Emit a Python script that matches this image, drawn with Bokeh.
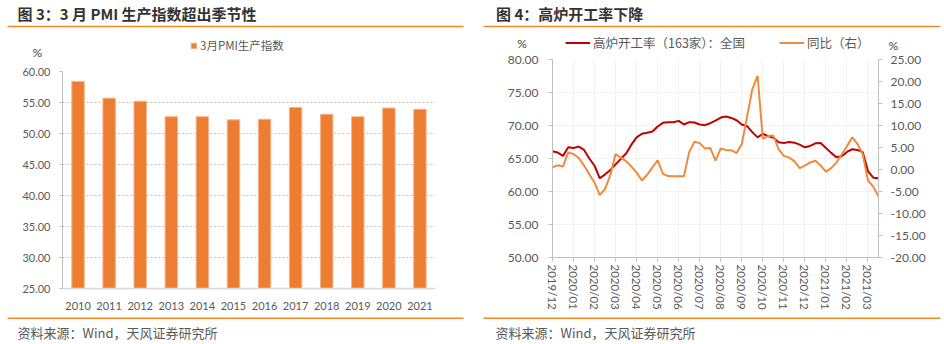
import math
from bokeh.plotting import figure
from bokeh.layouts import row, column
from bokeh.models import (Range1d, FactorRange, LinearAxis, FixedTicker, NumeralTickFormatter,
                          Label, Arrow, Legend, LegendItem)
from bokeh.embed import file_html
from bokeh.resources import INLINE

# ---------------- data ----------------
years = ["2010", "2011", "2012", "2013", "2014", "2015", "2016", "2017", "2018", "2019", "2020", "2021"]
pmi_production = [58.4, 55.7, 55.2, 52.7, 52.7, 52.2, 52.3, 54.2, 53.1, 52.7, 54.1, 53.9]
left_ticks = [25, 30, 35, 40, 45, 50, 55, 60]

date_labels = ["2019/12", "2020/01", "2020/02", "2020/03", "2020/04", "2020/05", "2020/06", "2020/07",
               "2020/08", "2020/09", "2020/10", "2020/11", "2020/12", "2021/01", "2021/02", "2021/03"]
furnace_rate = [66.1, 65.9, 65.4, 66.7, 66.6, 66.8, 66.3, 65.0, 63.9, 62.0,
                62.6, 63.25, 64.1, 64.95, 65.75, 67.1, 68.2, 68.75, 68.9, 69.1,
                69.85, 70.4, 70.5, 70.5, 70.7, 70.15, 70.5, 70.45, 70.15, 70.05,
                70.35, 70.75, 71.2, 71.35, 71.15, 70.8, 70.15, 69.9, 69.0, 68.2,
                68.75, 68.4, 68.15, 67.45, 67.35, 67.5, 67.4, 67.1, 66.7, 66.9,
                67.3, 67.35, 66.6, 65.85, 65.2, 65.35, 66.0, 66.4, 66.3, 65.95,
                63.1, 62.1, 62.0]
furnace_yoy = [0.5, 0.95, 0.7, 3.9, 3.5, 2.6, 0.9, -1.1, -3.0, -5.8,
               -4.4, -1.3, 3.5, 2.7, 1.9, 0.7, -0.7, -2.5, -1.2, 0.5,
               2.1, -1.0, -1.5, -1.55, -1.55, -1.55, 4.0, 6.3, 6.0, 4.8,
               4.9, 2.0, 4.8, 4.4, 4.4, 3.7, 5.8, 12.0, 18.2, 21.3,
               7.0, 7.6, 7.7, 4.6, 3.1, 2.7, 1.9, 0.3, 0.9, 1.6,
               2.0, 0.9, -0.5, 0.3, 1.6, 3.4, 5.3, 7.3, 5.8, 3.5,
               -2.5, -3.9, -6.1]
rate_ticks = [50, 55, 60, 65, 70, 75, 80]
yoy_ticks = [-20, -15, -10, -5, 0, 5, 10, 15, 20, 25]

# ---------------- styles ----------------
CJK = "Noto Sans CJK SC"
NUM = "Lato"
GRAY = "#595959"
AX = "#BFBFBF"
ORANGE_SEP = "#F08A24"
BAR = "#ED7D31"
BAR_EDGE = "#F6B48A"
RED = "#C00000"
ORANGE = "#F08A3C"
W = 472
FOOT_TOP = 312


def blank_fig(h):
    f = figure(width=W, height=h, x_range=Range1d(0, W), y_range=Range1d(h, 0),
               output_backend="svg", toolbar_location=None,
               x_axis_location=None, y_axis_location=None, frame_align=False,
               min_border_left=0, min_border_right=0, min_border_top=0, min_border_bottom=0)
    f.outline_line_color = None
    f.xgrid.grid_line_color = None
    f.ygrid.grid_line_color = None
    return f


def header(h, title, tx, sep):
    f = blank_fig(h)
    f.add_layout(Label(x=tx, y=13, text=title, text_font=CJK, text_font_size="15px",
                       text_font_style="bold", text_color="#333333", text_baseline="middle"))
    f.add_layout(Arrow(end=None, x_start=sep[0], y_start=26, x_end=sep[1], y_end=26,
                       line_color=ORANGE_SEP, line_width=1.5))
    return f


def footer(tx, sep):
    h = 344 - FOOT_TOP
    f = blank_fig(h)
    f.add_layout(Arrow(end=None, x_start=sep[0], y_start=317.7 - FOOT_TOP, x_end=sep[1],
                       y_end=317.7 - FOOT_TOP, line_color=ORANGE_SEP, line_width=1.5))
    f.add_layout(Label(x=tx, y=332 - FOOT_TOP, text="资料来源：Wind，天风证券研究所", text_font=CJK,
                       text_font_size="13px", text_color=GRAY, text_baseline="middle"))
    return f


def pct(f, x, y):
    f.add_layout(Label(x=x, y=y, text="%", text_font=NUM, text_font_size="12px",
                       text_color="#404040", text_baseline="middle"))


def style_legend(lg, size):
    lg.orientation = "horizontal"
    lg.background_fill_alpha = 0
    lg.border_line_alpha = 0
    lg.inactive_fill_alpha = 0
    lg.margin = 0
    lg.padding = 0
    lg.label_text_font = CJK
    lg.label_text_font_size = size
    lg.label_text_color = GRAY


# ================= left panel =================
H1 = 60
h1 = header(H1, "图 3：3 月 PMI 生产指数超出季节性", 17, (7, 463))
pct(h1, 32, 51.7)
# legend key: hidden copy of the bar series, only used to draw the legend swatch
key_bar = h1.vbar(x=list(range(len(pmi_production))), top=pmi_production, width=0.4,
                  fill_color=BAR, line_color=BAR_EDGE, visible=False)
lg1 = Legend(items=[LegendItem(label="3月PMI生产指数", renderers=[key_bar])], location=(190, H1 - 53))
style_legend(lg1, "11.5px")
lg1.glyph_width = 7
lg1.glyph_height = 7
lg1.label_height = 14
lg1.label_standoff = 3
h1.add_layout(lg1)

FL1, FR1, FT1, FB1 = 62, 435, 71, 290
c1 = figure(width=W, height=FOOT_TOP - H1, x_range=FactorRange(*years), y_range=Range1d(25, 60),
            output_backend="svg", toolbar_location=None, frame_align=False,
            min_border_left=FL1, min_border_right=W - FR1, min_border_top=FT1 - H1,
            min_border_bottom=FOOT_TOP - FB1)
c1.outline_line_color = None
c1.vbar(x=years, top=pmi_production, bottom=0, width=0.4, fill_color=BAR, line_color=BAR_EDGE,
        line_width=1)

c1.yaxis.ticker = FixedTicker(ticks=left_ticks)
c1.yaxis.formatter = NumeralTickFormatter(format="0.00")
c1.yaxis.axis_line_color = AX
c1.yaxis.major_tick_line_color = AX
c1.yaxis.major_tick_out = 3
c1.yaxis.major_tick_in = 0
c1.yaxis.minor_tick_line_color = None
c1.yaxis.major_label_standoff = 9
c1.yaxis.major_label_text_font = NUM
c1.yaxis.major_label_text_font_size = "11px"
c1.yaxis.major_label_text_color = GRAY

c1.xaxis.axis_line_color = "#D9D9D9"
c1.xaxis.axis_line_width = 1.5
c1.xaxis.major_tick_line_color = None
c1.xaxis.major_label_standoff = 7
c1.xaxis.major_label_text_font = NUM
c1.xaxis.major_label_text_font_size = "11px"
c1.xaxis.major_label_text_color = GRAY

c1.xgrid.grid_line_color = None
c1.ygrid.ticker = FixedTicker(ticks=left_ticks)
c1.ygrid.grid_line_color = AX
c1.ygrid.grid_line_dash = "2 2"

f1 = footer(17, (7, 463))

# ================= right panel =================
H2 = 52
idx = list(range(len(furnace_rate)))
h2 = header(H2, "图 4：高炉开工率下降", 23.5, (11, 468))
pct(h2, 44.7, 43.3)
pct(h2, 416, 45)
# legend keys: hidden copies of the two series, only used to draw the legend lines
key_rate = h2.line(x=idx, y=furnace_rate, line_color=RED, line_width=2, visible=False)
key_yoy = h2.line(x=idx, y=furnace_yoy, line_color=ORANGE, line_width=2, visible=False)
lg2 = Legend(items=[LegendItem(label="高炉开工率（163家）：全国", renderers=[key_rate]),
                    LegendItem(label="同比（右）", renderers=[key_yoy])],
             location=(93, 0))
style_legend(lg2, "12.5px")
lg2.spacing = 34
lg2.glyph_width = 25
lg2.glyph_height = 13
lg2.label_height = 13
lg2.label_standoff = 3
h2.add_layout(lg2)

FL2, FR2, FT2, FB2 = 80, 406, 59, 259
date_ticks = [4 * i for i in range(len(date_labels))]

c2 = figure(width=W, height=FOOT_TOP - H2, x_range=Range1d(0, len(furnace_rate) - 1),
            y_range=Range1d(50, 80), output_backend="svg", toolbar_location=None, frame_align=False,
            min_border_left=FL2, min_border_right=W - FR2, min_border_top=FT2 - H2,
            min_border_bottom=FOOT_TOP - FB2)
c2.outline_line_color = None
c2.extra_y_ranges = {"yoy": Range1d(-20, 25)}

c2.line(x=idx, y=furnace_rate, line_color=RED, line_width=2)
c2.line(x=idx, y=furnace_yoy, y_range_name="yoy", line_color=ORANGE, line_width=2)

right_axis = LinearAxis(y_range_name="yoy")
c2.add_layout(right_axis, "right")

for ax, ticks in ((c2.yaxis[0], rate_ticks), (right_axis, yoy_ticks)):
    ax.ticker = FixedTicker(ticks=ticks)
    ax.formatter = NumeralTickFormatter(format="0.00")
    ax.axis_line_color = AX
    ax.major_tick_line_color = AX
    ax.major_tick_out = 4
    ax.major_tick_in = 0
    ax.minor_tick_line_color = None
    ax.major_label_text_font = NUM
    ax.major_label_text_font_size = "12px"
    ax.major_label_text_color = GRAY
c2.yaxis[0].major_label_standoff = 10
right_axis.major_label_standoff = 8

xa = c2.xaxis[0]
xa.ticker = FixedTicker(ticks=date_ticks)
xa.major_label_overrides = {t: lab for t, lab in zip(date_ticks, date_labels)}
xa.major_label_orientation = -math.pi / 2
xa.axis_line_color = AX
xa.major_tick_line_color = AX
xa.major_tick_out = 4
xa.major_tick_in = 0
xa.minor_tick_line_color = None
xa.major_label_standoff = 3
xa.major_label_text_font = NUM
xa.major_label_text_font_size = "11.5px"
xa.major_label_text_color = GRAY

c2.xgrid.ticker = FixedTicker(ticks=date_ticks)
c2.xgrid.grid_line_color = "#F2F2F2"
c2.ygrid.ticker = FixedTicker(ticks=rate_ticks)
c2.ygrid.grid_line_color = "#F2F2F2"

f2 = footer(23, (11, 468))

layout = row(column(h1, c1, f1), column(h2, c2, f2))
open("out.html", "w").write(file_html(layout, INLINE))
